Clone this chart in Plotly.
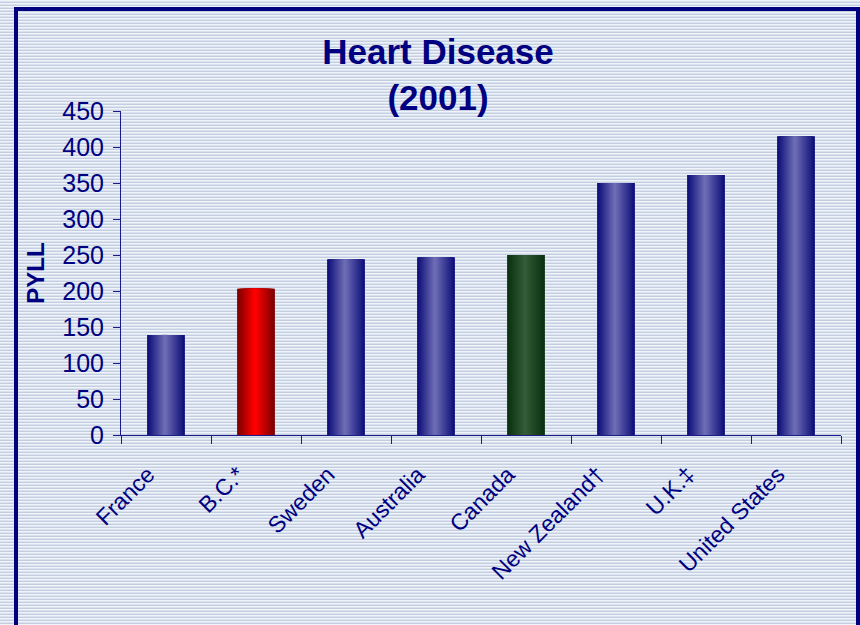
import base64
import plotly.graph_objects as go

countries = ["France", "B.C.*", "Sweden", "Australia", "Canada", "New Zealand†", "U.K.‡", "United States"]
pyll = [139, 203, 244, 247, 250, 350, 361, 415]
bar_kind = ["blue", "red", "blue", "blue", "green", "blue", "blue", "blue"]

# edge colour -> centre colour for the cylinder-like shading
shades = {
    "blue": ((14, 14, 122), (108, 108, 180)),
    "red": ((125, 0, 0), (255, 0, 0)),
    "green": ((10, 48, 16), (52, 92, 54)),
}

NAVY = "#000080"
FONT = "Arial, Liberation Sans, sans-serif"
W, H = 860, 625
L, R, T, B = 121, 19, 111, 190

# striped page background + navy frame, as one svg image behind everything
svg = (
    f'<svg xmlns="http://www.w3.org/2000/svg" width="{W}" height="{H}" shape-rendering="crispEdges">'
    '<defs><pattern id="p" width="4" height="3" patternUnits="userSpaceOnUse">'
    '<rect width="4" height="3" fill="#f0f4fa"/><rect y="1" width="4" height="1" fill="#dae3ee"/>'
    '<rect y="2" width="4" height="1" fill="#c3cfe0"/>'
    '</pattern></defs>'
    f'<rect width="{W}" height="{H}" fill="url(#p)"/>'
    '<rect x="15.5" y="9" width="842.5" height="700" fill="none" stroke="#000080" stroke-width="4"/>'
    '</svg>'
)
bg = "data:image/svg+xml;base64," + base64.b64encode(svg.encode()).decode()

fig = go.Figure()

N = 16
BW = 0.42
for k in range(N):
    t = k / (N - 1)
    w = BW * (1 - k / N)
    cols = []
    for kind in bar_kind:
        a, b = shades[kind]
        c = [round(a[i] + (b[i] - a[i]) * t) for i in range(3)]
        cols.append(f"rgb({c[0]},{c[1]},{c[2]})")
    fig.add_trace(go.Bar(
        x=countries, y=pyll, width=w, offset=-w / 2 - 0.012 * (k / N),
        marker=dict(color=cols, line=dict(width=0)),
        showlegend=False, hoverinfo="x+y",
    ))

fig.update_layout(
    width=W, height=H,
    barmode="overlay",
    margin=dict(l=L, r=R, t=T, b=B, autoexpand=False),
    paper_bgcolor="#e4ebf4",
    plot_bgcolor="rgba(0,0,0,0)",
    font=dict(family=FONT, color=NAVY),
    title=dict(
        text="<b>Heart Disease<br>(2001)</b>",
        font=dict(size=35, color=NAVY, family=FONT),
        x=438 / W, xanchor="center",
        y=1 - 64 / H, yanchor="top",
    ),
    images=[dict(
        source=bg, xref="paper", yref="paper",
        x=-L / (W - L - R), y=1 + T / (H - T - B),
        sizex=W / (W - L - R), sizey=H / (H - T - B),
        xanchor="left", yanchor="top", sizing="stretch", layer="below",
    )],
)

fig.update_yaxes(
    range=[0, 450], dtick=50, automargin=False,
    showgrid=False, zeroline=False,
    showline=True, linecolor="#1a1a88", linewidth=1,
    ticks="outside", ticklen=7, tickcolor="#1a1a88",
    tickfont=dict(size=25, color=NAVY), ticklabelstandoff=4,
    title=dict(text="<b>PYLL</b>", font=dict(size=24, color=NAVY), standoff=10),
)
fig.update_xaxes(
    automargin=False,
    showgrid=False, showline=True, linecolor="#1a1a88", linewidth=1,
    ticks="outside", ticklen=8, tickcolor="#1a1a88", tickson="boundaries",
    tickangle=-45, tickfont=dict(size=23, color=NAVY),
    ticklabelstandoff=16, ticklabelshift=-18,
)

# page body has a default 8px margin; drop it so the figure sits at the corner
fig.write_html("out.html", config={"displayModeBar": False},
               post_script="document.body.style.margin='0';")
